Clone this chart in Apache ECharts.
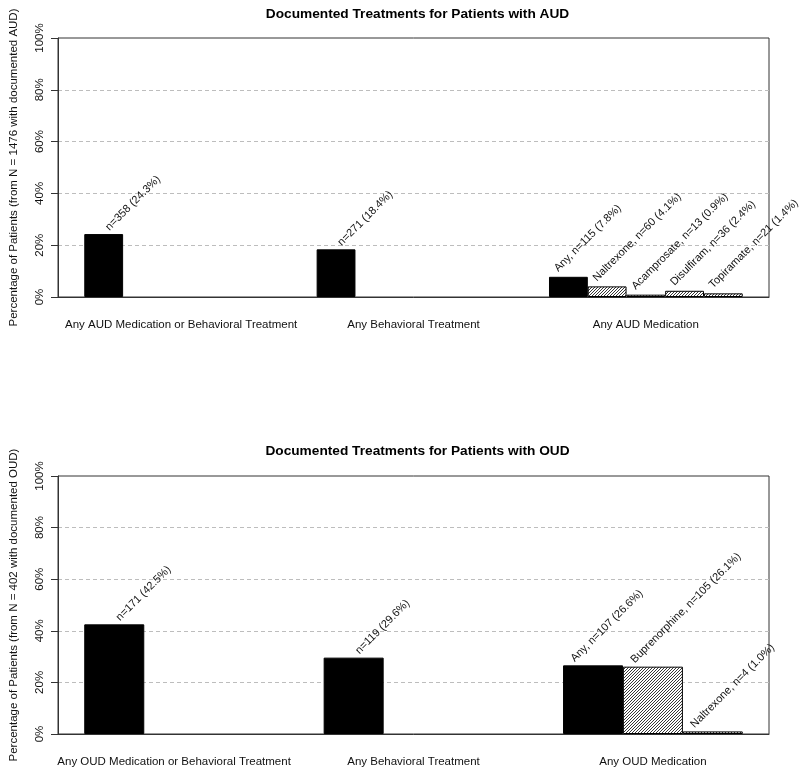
<!DOCTYPE html>
<html>
<head>
<meta charset="utf-8">
<script src="https://cdn.jsdelivr.net/npm/echarts@6/dist/echarts.min.js"></script>
<style>
html,body{margin:0;padding:0;background:#fff;}
#chart{width:800px;height:775px;}
</style>
</head>
<body>
<div id="chart"></div>
<script>
// ---------------- DATA ----------------
const audCategories = ['Any AUD Medication or Behavioral Treatment', 'Any Behavioral Treatment', 'Any AUD Medication'];
const audAnyValues = [24.3, 18.4, 7.8];
const audAnyN = [358, 271, 115];
const audMedNames = ['Naltrexone', 'Acamprosate', 'Disulfiram', 'Topiramate'];
const audMedValues = [4.1, 0.9, 2.4, 1.4];
const audMedN = [60, 13, 36, 21];

const oudCategories = ['Any OUD Medication or Behavioral Treatment', 'Any Behavioral Treatment', 'Any OUD Medication'];
const oudAnyValues = [42.5, 29.6, 26.6];
const oudAnyN = [171, 119, 107];
const oudMedNames = ['Buprenorphine', 'Naltrexone'];
const oudMedValues = [26.1, 1.0];
const oudMedN = [105, 4];

const yTicks = [0, 20, 40, 60, 80, 100];
const titles = ['Documented Treatments for Patients with AUD', 'Documented Treatments for Patients with OUD'];
const yNames = ['Percentage of Patients (from N = 1476 with documented AUD)', 'Percentage of Patients (from N = 402 with documented OUD)'];

// ---------------- HELPERS ----------------
const FONT = "'Liberation Sans', Arial, Helvetica, sans-serif";

function makeHatch() {
  const p = 3, size = 12;
  const c = document.createElement('canvas');
  c.width = size; c.height = size;
  const ctx = c.getContext('2d');
  ctx.fillStyle = '#ffffff';
  ctx.fillRect(0, 0, size, size);
  const img = ctx.getImageData(0, 0, size, size);
  for (let y = 0; y < size; y++) {
    for (let x = 0; x < size; x++) {
      if ((x + y) % p === p - 1) {
        const i = (y * size + x) * 4;
        img.data[i] = 55; img.data[i + 1] = 55; img.data[i + 2] = 55; img.data[i + 3] = 255;
      }
    }
  }
  ctx.putImageData(img, 0, 0);
  return c;
}
const hatch = makeHatch();

const GRID_LEFT = 56, GRID_WIDTH = 713;
const grids = [
  { left: GRID_LEFT, top: 38, width: GRID_WIDTH, height: 259 },
  { left: GRID_LEFT, top: 476, width: GRID_WIDTH, height: 258 }
];

function fmt(v) { return v.toFixed(1); }

// glyph-start shift of a 45deg rotated, bottom-aligned label (descender room)
const BASE = 1.56;

function buildPanel(idx, categories, anyValues, anyN, medNames, medValues, medN, offs) {
  const nRows = medNames.length + 1;
  const groupLen = nRows + 1;
  const xStart = 1, xEnd = categories.length * groupLen;
  const pad = (xEnd - xStart) * 0.04;
  const xmin = xStart - pad, xmax = xEnd + pad;
  const barW = GRID_WIDTH / (xmax - xmin);
  const centers = categories.map((c, g) => g * groupLen + 1 + nRows / 2);

  const data = [];
  categories.forEach((cat, g) => {
    const last = g === categories.length - 1;
    const rows = last ? [anyValues[g]].concat(medValues) : [anyValues[g]];
    rows.forEach((v, r) => {
      let text;
      if (last) {
        text = (r === 0 ? 'Any' : medNames[r - 1]) + ', n=' + (r === 0 ? anyN[g] : medN[r - 1]) + ' (' + fmt(v) + '%)';
      } else {
        text = 'n=' + anyN[g] + ' (' + fmt(v) + '%)';
      }
      const off = last ? offs.last : offs.first;
      data.push({
        value: [g * groupLen + 1 + r + 0.5, v],
        itemStyle: r === 0 ? { color: '#000000' } : { color: { image: hatch, repeat: 'repeat' } },
        label: { formatter: text, position: [barW / 2 + off[0] + BASE, off[1] + BASE] }
      });
    });
  });

  const xAxis = {
    type: 'value', gridIndex: idx, min: xmin, max: xmax,
    axisLine: { show: true, lineStyle: { color: '#333', width: 1 } },
    axisTick: { show: false },
    splitLine: { show: false },
    axisLabel: {
      customValues: centers,
      margin: 22,
      fontSize: 11.5, fontFamily: FONT, color: '#111',
      formatter: function (val) {
        let best = 0, bd = Infinity;
        centers.forEach((c, i) => { const d = Math.abs(c - val); if (d < bd) { bd = d; best = i; } });
        return categories[best];
      }
    }
  };
  const yAxis = {
    type: 'value', gridIndex: idx, min: 0, max: 100, interval: 20,
    name: yNames[idx], nameLocation: 'middle', nameGap: 38,
    nameTextStyle: { fontSize: 11.5, fontFamily: FONT, color: '#111' },
    axisLine: { show: true, lineStyle: { color: '#333', width: 1 } },
    axisTick: { show: true, length: 7, lineStyle: { color: '#333' } },
    axisLabel: {
      rotate: 90, margin: 12, fontSize: 11.5, fontFamily: FONT, color: '#111',
      formatter: '{value}%'
    },
    splitLine: {
      show: true,
      lineStyle: {
        color: yTicks.map((t, i) => (i === 0 || i === yTicks.length - 1) ? 'rgba(0,0,0,0)' : '#bdbdbd'),
        type: [4, 3], width: 1
      }
    }
  };
  const series = {
    type: 'bar', xAxisIndex: idx, yAxisIndex: idx,
    barWidth: barW,
    data: data,
    itemStyle: { borderColor: '#000', borderWidth: 1 },
    label: {
      show: true, rotate: 45,
      align: 'left', verticalAlign: 'bottom',
      fontSize: 11, fontFamily: FONT, color: '#111'
    },
    emphasis: { disabled: true },
    animation: false
  };
  return { xAxis, yAxis, series };
}

const p1 = buildPanel(0, audCategories, audAnyValues, audAnyN, audMedNames, audMedValues, audMedN,
  { first: [6, -3], last: [-10, -4.5] });
const p2 = buildPanel(1, oudCategories, oudAnyValues, oudAnyN, oudMedNames, oudMedValues, oudMedN,
  { first: [6, -3], last: [-18, -3] });

const option = {
  backgroundColor: '#ffffff',
  animation: false,
  title: [
    { text: titles[0], left: GRID_LEFT + GRID_WIDTH / 2, top: 2, textAlign: 'center',
      textStyle: { fontSize: 13.7, fontWeight: 'bold', fontFamily: FONT, color: '#000' } },
    { text: titles[1], left: GRID_LEFT + GRID_WIDTH / 2, top: 439, textAlign: 'center',
      textStyle: { fontSize: 13.7, fontWeight: 'bold', fontFamily: FONT, color: '#000' } }
  ],
  grid: grids.map(g => Object.assign({ show: true, borderColor: '#333', borderWidth: 1, backgroundColor: 'transparent' }, g)),
  xAxis: [p1.xAxis, p2.xAxis],
  yAxis: [p1.yAxis, p2.yAxis],
  series: [p1.series, p2.series]
};

const chart = echarts.init(document.getElementById('chart'), null, { renderer: 'canvas' });
chart.setOption(option);
</script>
</body>
</html>
